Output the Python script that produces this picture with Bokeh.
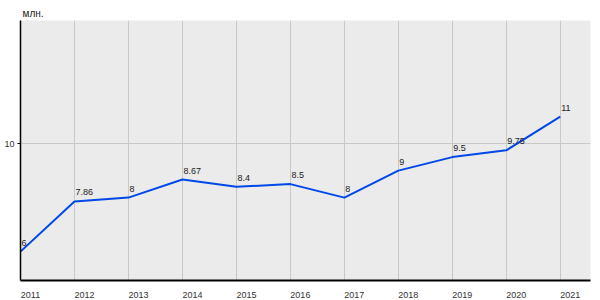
from bokeh.plotting import figure
from bokeh.models import ColumnDataSource, Range1d, FixedTicker, Title
from bokeh.embed import file_html
from bokeh.resources import INLINE
from bokeh.core.properties import value

years = [2011, 2012, 2013, 2014, 2015, 2016, 2017, 2018, 2019, 2020, 2021]
values = [6, 7.86, 8, 8.67, 8.4, 8.5, 8, 9, 9.5, 9.75, 11]
labels = ["6", "7.86", "8", "8.67", "8.4", "8.5", "8", "9", "9.5", "9.75", "11"]
y_ticks = [10]
unit_label = "млн."

X0, X1 = 2011, 2021.56
LABEL_SHIFT = 0.185  # shifts year labels so they start at the tick (left aligned look)

src = ColumnDataSource(dict(x=years, y=values, t=labels))

p = figure(width=600, height=300, output_backend="svg", toolbar_location=None,
           x_range=Range1d(X0, X1), y_range=Range1d(4.93, 14.56),
           min_border_left=20, min_border_right=10, min_border_top=20, min_border_bottom=20)
p.extra_x_ranges = {"lab": Range1d(X0 - LABEL_SHIFT, X1 - LABEL_SHIFT)}
p.background_fill_color = "#ebebeb"
p.border_fill_color = "white"
p.outline_line_color = None

p.line("x", "y", source=src, line_color="#0048e8", line_width=2)
p.text("x", "y", text="t", source=src, x_offset=1, y_offset=-6,
       text_font=value("Liberation Sans"), text_font_size="9px",
       text_color="#222222", text_align="left", text_baseline="bottom")

p.xaxis[0].x_range_name = "lab"
p.xaxis.ticker = FixedTicker(ticks=years)
p.yaxis.ticker = FixedTicker(ticks=y_ticks)
p.xgrid.ticker = FixedTicker(ticks=years)
p.ygrid.ticker = FixedTicker(ticks=y_ticks)
p.grid.grid_line_color = "#c8c8c8"
p.grid.grid_line_width = 1

for ax in (p.xaxis[0], p.yaxis[0]):
    ax.axis_line_color = "black"
    ax.major_label_text_font = "Liberation Sans"
    ax.major_label_text_font_size = "9px"
    ax.major_label_text_color = "#333333"
    ax.minor_tick_line_color = None

p.xaxis.axis_line_width = 2
p.yaxis.axis_line_width = 1.5
p.xaxis.major_tick_line_color = None
p.xaxis.major_label_standoff = 5
p.yaxis.major_tick_out = 3
p.yaxis.major_tick_in = 0
p.yaxis.major_tick_line_color = "black"
p.yaxis.major_label_standoff = 3

t = Title(text=unit_label, align="left", text_font="Liberation Sans",
          text_font_size="10px", text_font_style="normal", text_color="#222222",
          offset=2, standoff=3)
p.add_layout(t, "above")

open("out.html", "w").write(file_html(p, INLINE))
